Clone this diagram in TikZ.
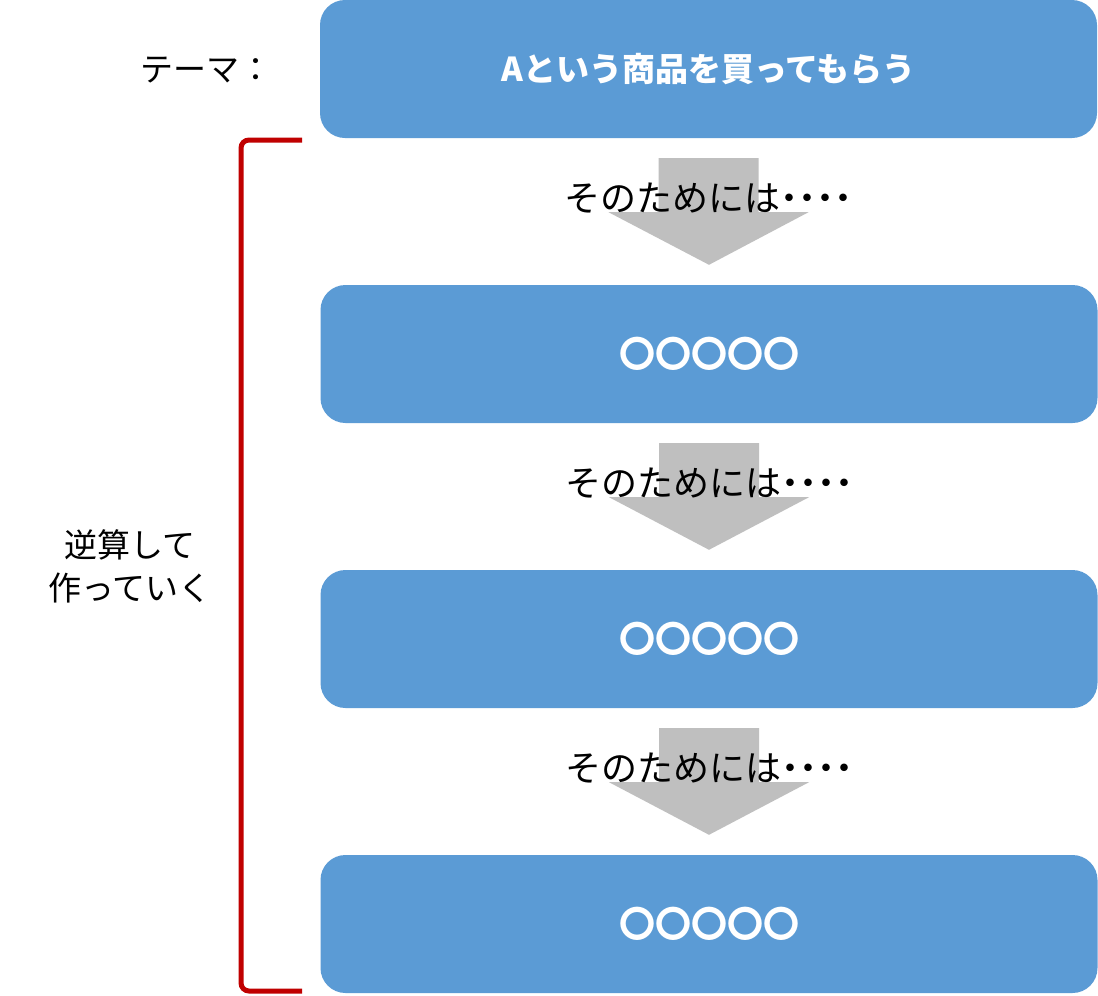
\documentclass[tikz,border=0pt]{standalone}
\usepackage{fontspec}
\setmainfont{Noto Sans CJK JP}
\usetikzlibrary{calc}
\definecolor{boxblue}{HTML}{5B9BD5}
\definecolor{arrowgrey}{HTML}{BFBFBF}
\definecolor{bracketred}{HTML}{C00000}
\tikzset{
  stepbox/.style={fill=boxblue, rounded corners=25pt, minimum width=777pt, minimum height=138pt,
    text=white, inner sep=0pt, font=\bfseries\fontsize{36}{40}\selectfont},
  flowlabel/.style={text=black, inner sep=0pt, font=\fontsize{36}{40}\selectfont},
  sidelabel/.style={text=black, inner sep=0pt, align=center, font=\fontsize{33}{43}\selectfont},
  bigarrow/.style={fill=arrowgrey},
  bracket/.style={draw=bracketred, line width=5pt, rounded corners=8pt}
}
\begin{document}
\begin{tikzpicture}[x=1pt,y=-1pt]
\useasboundingbox[fill=white] (0,0) rectangle (1098,996);
\node[stepbox, font=\bfseries\fontsize{33}{40}\selectfont] (b1) at (708.5,69) {Aという商品を買ってもらう};
\node[stepbox] (b2) at (709,354) {〇〇〇〇〇};
\node[stepbox] (b3) at (709,639) {〇〇〇〇〇};
\node[stepbox] (b4) at (709,924) {〇〇〇〇〇};
\foreach \a/\b/\n in {b1/b2/t1,b2/b3/t2,b3/b4/t3}{
  \fill[bigarrow] ($(\a.south)+(-50,20)$) -- ($(\a.south)+(50,20)$) -- ($(\a.south)+(50,74)$)
    -- ($(\a.south)+(100,74)$) -- ($(\b.north)+(0,-20)$) -- ($(\a.south)+(-100,74)$)
    -- ($(\a.south)+(-50,74)$) -- cycle;
  \node[flowlabel] (\n) at ($(\a.south)+(0,60)$) {そのためには{\bfseries ････}};
}
\node[sidelabel] (theme) at (206,70) {テーマ：};
\node[sidelabel] (rev) at (130,566) {逆算して\\作っていく};
\coordinate (bt) at (302,140);
\coordinate (bb) at (302,991);
\draw[bracket] (bt) -- (241,140) -- (241,991) -- (bb);
\end{tikzpicture}
\end{document}
